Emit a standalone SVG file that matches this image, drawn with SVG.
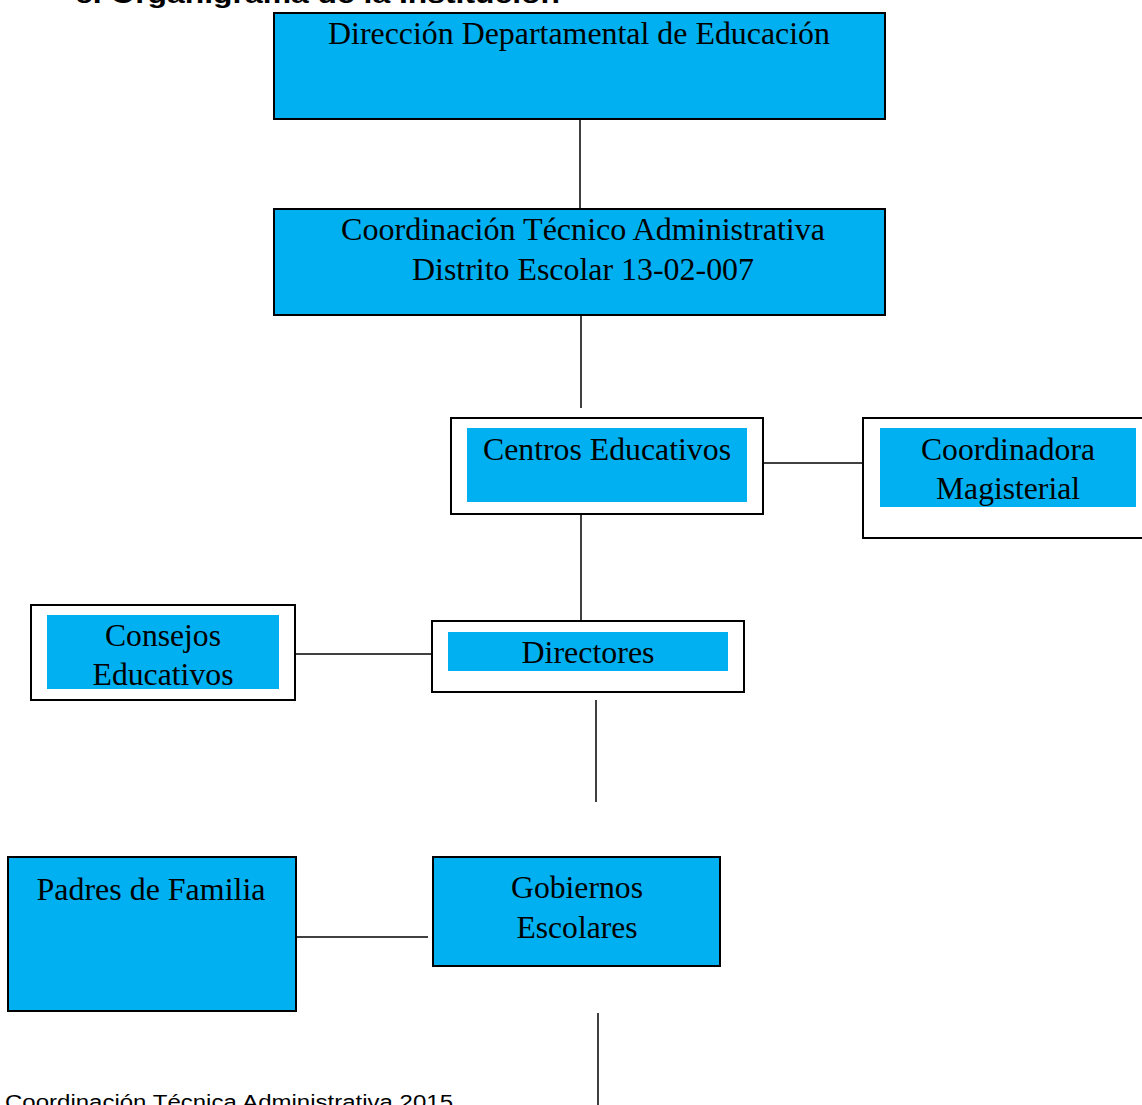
<svg xmlns="http://www.w3.org/2000/svg" width="1142" height="1105" viewBox="0 0 1142 1105">
<style>
.blue{fill:#00B0F0;stroke:#000;stroke-width:2}
.inner{fill:#00B0F0;stroke:none}
.outer{fill:#fff;stroke:#000;stroke-width:2}
.t{font-family:"Liberation Serif","Times New Roman",serif;font-size:31px;fill:#000;text-anchor:middle}
.c{stroke:#000;stroke-width:1.5;fill:none}
</style>
<rect width="1142" height="1105" fill="#fff"/>
<text x="75" y="3" font-family="Liberation Sans, Arial, sans-serif" font-weight="bold" font-size="26" textLength="485" lengthAdjust="spacingAndGlyphs">c. Organigrama de la Institución</text>
<g id="connectors">
<line class="c" x1="580" y1="119" x2="580" y2="208"/>
<line class="c" x1="581" y1="315" x2="581" y2="408"/>
<line class="c" x1="763" y1="463" x2="863" y2="463"/>
<line class="c" x1="581" y1="514" x2="581" y2="620"/>
<line class="c" x1="295" y1="654" x2="432" y2="654"/>
<line class="c" x1="596" y1="700" x2="596" y2="802"/>
<line class="c" x1="296" y1="937" x2="428" y2="937"/>
<line class="c" x1="598" y1="1013" x2="598" y2="1105"/>
</g>
<g id="direccion">
<rect class="blue" x="274" y="13" width="611" height="106"/>
<text class="t" x="579" y="44" textLength="502" lengthAdjust="spacingAndGlyphs">Dirección Departamental de Educación</text>
</g>
<g id="coordinacion">
<rect class="blue" x="274" y="209" width="611" height="106"/>
<text class="t" x="583" y="240" textLength="484" lengthAdjust="spacingAndGlyphs">Coordinación Técnico Administrativa</text>
<text class="t" x="583" y="280" textLength="342" lengthAdjust="spacingAndGlyphs">Distrito Escolar 13-02-007</text>
</g>
<g id="centros">
<rect class="outer" x="451" y="418" width="312" height="96"/>
<rect class="inner" x="467" y="428" width="280" height="74"/>
<text class="t" x="607" y="460" textLength="248" lengthAdjust="spacingAndGlyphs">Centros Educativos</text>
</g>
<g id="coordinadora">
<rect class="outer" x="863" y="418" width="290" height="120"/>
<rect class="inner" x="880" y="428" width="256" height="79"/>
<text class="t" x="1008" y="460" textLength="174" lengthAdjust="spacingAndGlyphs">Coordinadora</text>
<text class="t" x="1008" y="499" textLength="144" lengthAdjust="spacingAndGlyphs">Magisterial</text>
</g>
<g id="directores">
<rect class="outer" x="432" y="621" width="312" height="71"/>
<rect class="inner" x="448" y="632" width="280" height="39"/>
<text class="t" x="588" y="663" textLength="133" lengthAdjust="spacingAndGlyphs">Directores</text>
</g>
<g id="consejos">
<rect class="outer" x="31" y="605" width="264" height="95"/>
<rect class="inner" x="47" y="615" width="232" height="74"/>
<text class="t" x="163" y="646" textLength="116" lengthAdjust="spacingAndGlyphs">Consejos</text>
<text class="t" x="163" y="685" textLength="141" lengthAdjust="spacingAndGlyphs">Educativos</text>
</g>
<g id="padres">
<rect class="blue" x="8" y="857" width="288" height="154"/>
<text class="t" x="151" y="900" textLength="229" lengthAdjust="spacingAndGlyphs">Padres de Familia</text>
</g>
<g id="gobiernos">
<rect class="blue" x="433" y="857" width="287" height="109"/>
<text class="t" x="577" y="898" textLength="132" lengthAdjust="spacingAndGlyphs">Gobiernos</text>
<text class="t" x="577" y="938" textLength="121" lengthAdjust="spacingAndGlyphs">Escolares</text>
</g>
<text x="5" y="1109" font-family="Liberation Sans, Arial, sans-serif" font-size="20" textLength="448" lengthAdjust="spacingAndGlyphs">Coordinación Técnica Administrativa 2015</text>
</svg>
